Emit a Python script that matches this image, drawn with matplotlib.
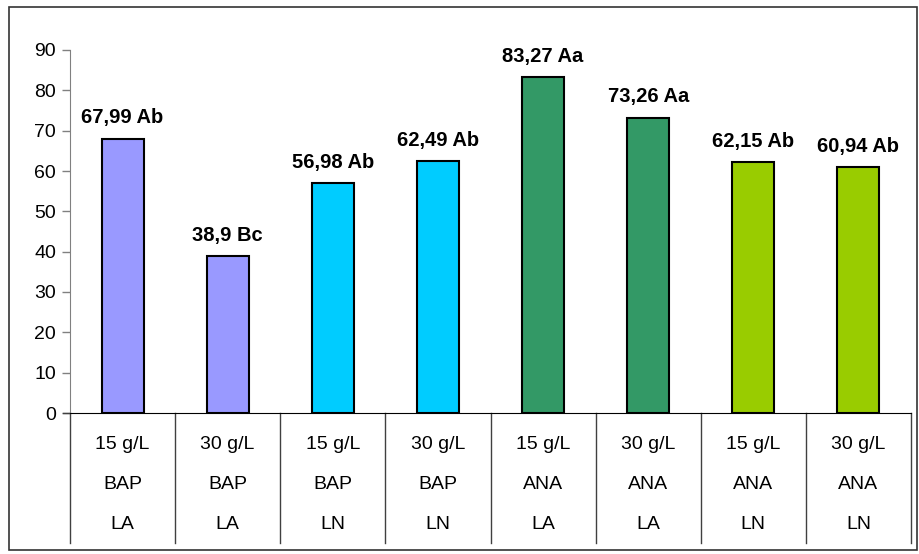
import numpy as np
import matplotlib.pyplot as plt
from matplotlib.patches import Rectangle

plt.rcParams['font.family'] = ['Liberation Sans', 'DejaVu Sans']

doses = ['15 g/L', '30 g/L', '15 g/L', '30 g/L', '15 g/L', '30 g/L', '15 g/L', '30 g/L']
hormones = ['BAP', 'BAP', 'BAP', 'BAP', 'ANA', 'ANA', 'ANA', 'ANA']
media = ['LA', 'LA', 'LN', 'LN', 'LA', 'LA', 'LN', 'LN']
values = [67.99, 38.9, 56.98, 62.49, 83.27, 73.26, 62.15, 60.94]
letters = ['Ab', 'Bc', 'Ab', 'Ab', 'Aa', 'Aa', 'Ab', 'Ab']
colors = ['#9999FF', '#9999FF', '#00CCFF', '#00CCFF',
          '#339966', '#339966', '#99CC00', '#99CC00']

W, H = 919, 554
fig = plt.figure(figsize=(W / 100, H / 100), dpi=100)
ax = fig.add_axes([70 / W, (H - 413) / H, (911 - 70) / W, 363 / H])

x = np.arange(len(values))
ax.bar(x, values, width=0.4, color=colors, edgecolor='black', linewidth=1.5, zorder=3)

for xi, v, l in zip(x, values, letters):
    label = ('%g' % v).replace('.', ',') + ' ' + l
    ax.annotate(label, (xi, v), xytext=(0, 11), textcoords='offset points',
                ha='center', va='baseline', fontsize=14.5, fontweight='bold')

ax.set_xlim(-0.5, len(values) - 0.5)
ax.set_ylim(0, 90)
ax.set_yticks(np.arange(0, 91, 10))
ax.tick_params(axis='y', length=6, width=1, labelsize=14, pad=4, color='#808080')
ax.set_xticks([])

ax.spines['top'].set_visible(False)
ax.spines['right'].set_visible(False)
ax.spines['left'].set_color('#808080')
ax.spines['bottom'].set_color('black')
ax.spines['bottom'].set_bounds(-0.5, len(values) - 0.5)

# category table below the axis
trans = ax.get_xaxis_transform()
for b in np.arange(-0.5, len(values), 1.0):
    ax.plot([b, b], [0, -0.358], transform=trans, color='#404040', lw=1, clip_on=False)
ax.plot([-0.5 - 0.065, -0.5], [0, 0], transform=trans, color='#404040', lw=1, clip_on=False)
for xi in x:
    ax.text(xi, -0.088, doses[xi], transform=trans, ha='center', va='center', fontsize=14)
    ax.text(xi, -0.198, hormones[xi], transform=trans, ha='center', va='center', fontsize=14)
    ax.text(xi, -0.308, media[xi], transform=trans, ha='center', va='center', fontsize=14)

fig.patches.append(Rectangle((9 / W, 4 / H), (917 - 9) / W, (550 - 7) / H,
                             transform=fig.transFigure, fill=False,
                             edgecolor='#333333', linewidth=1.2))

fig.savefig('out.png', dpi=100)
